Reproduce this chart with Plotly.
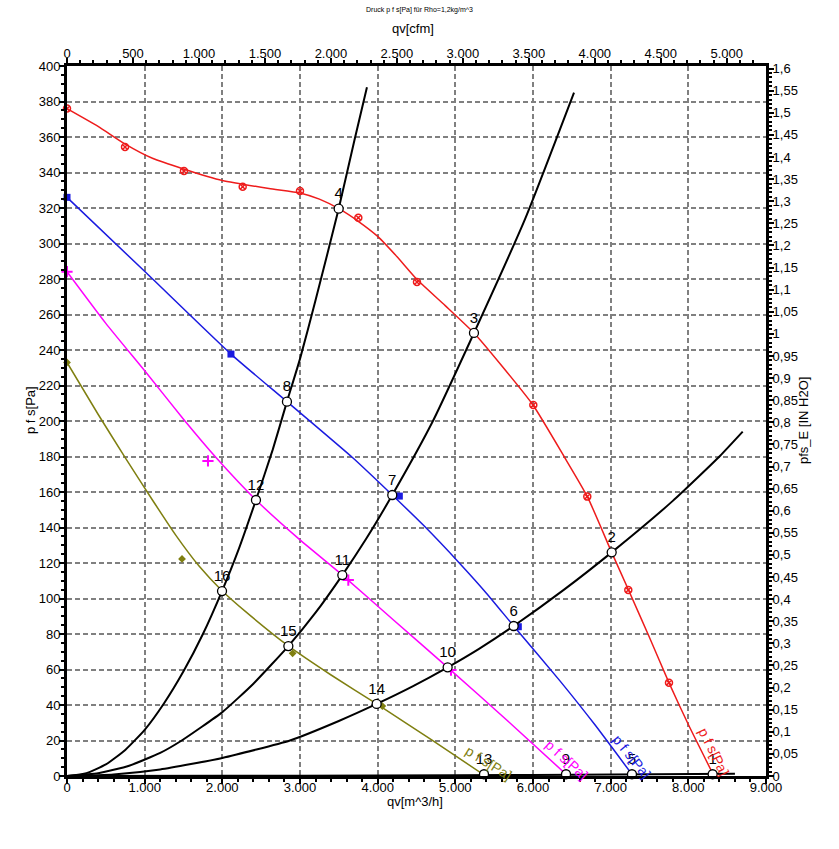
import plotly.graph_objects as go

# ---------------- data ----------------
# fan curves: smooth line points [m^3/h], [Pa]
red_x = [0, 400, 750, 1100, 1500, 2000, 2600, 3000, 3250, 3500, 3750, 4000, 4250, 4500, 4870, 5240, 5600, 6000, 6400, 6700, 7013, 7230, 7500, 7750, 8000, 8330]
red_y = [376, 366, 356, 348, 342, 335.5, 331, 328.5, 325, 319.6, 312.5, 304, 292.5, 280, 265, 249.6, 231, 209, 180, 157.4, 126, 104.8, 78, 52.6, 29, 0]
red_mx = [0, 747, 1506, 2262, 3000, 3751, 4506, 6004, 6699, 7227, 7751]
red_my = [376, 354.4, 340.8, 332, 329.6, 314.5, 278.3, 209, 157.4, 104.8, 52.6]

blue_x = [0, 1026, 2111, 2832, 3686, 4188, 4600, 5060, 5400, 5751, 6347, 6800, 7290]
blue_y = [326, 283.2, 237.7, 210.9, 179, 158.3, 140.8, 119.6, 103, 84.5, 53.6, 28.7, 0]
blue_mx = [0, 2111, 4279, 5811]
blue_my = [326, 237.7, 157.7, 84.1]

mag_x = [0, 500, 1026, 1500, 1927, 2433, 3000, 3545, 4200, 4901, 5700, 6450]
mag_y = [284.1, 255, 226.9, 201, 179, 155.5, 133, 113.2, 88, 61.2, 30, 0]
mag_mx = [0, 1815, 3622, 4944]
mag_my = [284.1, 177.5, 110.4, 59.7]

olv_x = [0, 400, 747, 1100, 1400, 1700, 1996, 2300, 2850, 3400, 3987, 4700, 5390]
olv_y = [233, 203.8, 179.5, 155.5, 135.7, 118.3, 104.4, 92.6, 73.3, 56.9, 40.6, 20.2, 0]
olv_mx = [0, 1481, 2905, 4060]
olv_my = [233, 122.3, 69.1, 39.4]

# system curves
sysA_x = [0, 250, 500, 750, 1000, 1250, 1500, 1750, 1996, 2200, 2433, 2650, 2832, 3000, 3200, 3498, 3700, 3862]
sysA_y = [0, 1.6, 6.5, 14.7, 26, 41, 59, 80, 104.2, 126.5, 155.5, 184, 210.9, 235, 268, 319.6, 358, 388]
sysB_x = [0, 400, 800, 1200, 1477, 2000, 2400, 2850, 3200, 3545, 3850, 4188, 4700, 5240, 5900, 6528]
sysB_y = [0, 1.5, 5.8, 13, 20, 36, 52, 73.2, 92, 113.2, 133.5, 158.3, 199, 249.6, 314, 385]
sysC_x = [0, 600, 1200, 2000, 2871, 3500, 3987, 4450, 4901, 5300, 5751, 6400, 7013, 7800, 8407, 8700]
sysC_y = [0, 0.9, 3.7, 10.2, 20, 31, 40.6, 50.5, 61.2, 71.5, 84.5, 105, 126, 155, 180.3, 194]
sysD_x = [0, 2000, 4000, 6000, 8600]
sysD_y = [0, 0.1, 0.3, 0.6, 1.3]

# operating points
pt_lbl = ["1", "2", "3", "4", "5", "6", "7", "8", "9", "10", "11", "12", "13", "14", "15", "16"]
pt_x = [8313, 7013, 5240, 3498, 7274, 5751, 4188, 2832, 6425, 4901, 3545, 2433, 5369, 3987, 2850, 1996]
pt_y = [1, 126, 249.6, 319.6, 1, 84.5, 158.3, 210.9, 1, 61.2, 113.2, 155.5, 1, 40.6, 73.2, 104.2]

# axes
x_ticks = [0, 1000, 2000, 3000, 4000, 5000, 6000, 7000, 8000, 9000]
x_ticktext = ["0", "1.000", "2.000", "3.000", "4.000", "5.000", "6.000", "7.000", "8.000", "9.000"]
cfm_ticks = [0, 500, 1000, 1500, 2000, 2500, 3000, 3500, 4000, 4500, 5000]
cfm_ticktext = ["0", "500", "1.000", "1.500", "2.000", "2.500", "3.000", "3.500", "4.000", "4.500", "5.000"]
inh2o_ticks = [round(i * 0.05, 2) for i in range(33)]
inh2o_ticktext = [("%g" % v).replace(".", ",") for v in inh2o_ticks]

M3H_PER_CFM = 1.69901
PA_PER_INH2O = 249.089

RED = "#ee1c1c"
BLUE = "#1a1ae0"
MAG = "#ff00ff"
OLV = "#7f7f10"
FONT = "Liberation Sans, Arial, sans-serif"

fig = go.Figure()

def line(x, y, color, w=1.5):
    fig.add_trace(go.Scatter(x=x, y=y, mode="lines", line=dict(color=color, width=w, shape="spline", smoothing=0.5),
                             hoverinfo="skip", showlegend=False, cliponaxis=False))

def marks(x, y, color, symbol, size, lw=1.2, fill=None):
    fig.add_trace(go.Scatter(x=x, y=y, mode="markers",
                             marker=dict(symbol=symbol, size=size, color=fill or color, line=dict(color=color, width=lw)),
                             hoverinfo="skip", showlegend=False, cliponaxis=False))

line(red_x, red_y, RED)
line(blue_x, blue_y, BLUE)
line(mag_x, mag_y, MAG)
line(olv_x, olv_y, OLV)

marks(red_mx, red_my, RED, "circle-x-open", 7, 1.5)
marks(blue_mx, blue_my, BLUE, "square", 7, 0)
marks(mag_mx, mag_my, MAG, "cross-thin", 8, 2)
marks(olv_mx, olv_my, OLV, "diamond", 6, 0)

for sx, sy in [(sysA_x, sysA_y), (sysB_x, sysB_y), (sysC_x, sysC_y), (sysD_x, sysD_y)]:
    line(sx, sy, "black", 2)

fig.add_trace(go.Scatter(x=pt_x, y=pt_y, mode="markers+text", text=pt_lbl, textposition="top center",
                         textfont=dict(family=FONT, size=15, color="black"),
                         marker=dict(symbol="circle", size=9, color="white", line=dict(color="black", width=1.3)),
                         hoverinfo="skip", showlegend=False, cliponaxis=False))

# invisible trace for the secondary axes
fig.add_trace(go.Scatter(x=[0], y=[0], xaxis="x2", yaxis="y2", mode="markers",
                         marker=dict(opacity=0), hoverinfo="skip", showlegend=False))

axis_common = dict(showline=True, linewidth=3, linecolor="black", ticks="outside", ticklen=5, tickwidth=1.5,
                   tickcolor="black", zeroline=False, tickfont=dict(family=FONT, size=13, color="black"))
grid = dict(showgrid=True, gridcolor="#808080", gridwidth=1.5, griddash="5px,3px")

fig.update_layout(
    width=839, height=849,
    margin=dict(l=67, r=73, t=66, b=73),
    plot_bgcolor="white", paper_bgcolor="white",
    showlegend=False,
    font=dict(family=FONT, color="black"),
    xaxis=dict(range=[0, 9000], tickmode="array", tickvals=x_ticks, ticktext=x_ticktext, ticklabelstandoff=-8,
               minor=dict(dtick=200, tick0=0, ticks="outside", ticklen=3, tickcolor="black", showgrid=False),
               **axis_common, **grid),
    yaxis=dict(range=[0, 400], tickmode="linear", tick0=0, dtick=20, ticklabelstandoff=-4,
               minor=dict(dtick=5, tick0=0, ticks="outside", ticklen=3, tickcolor="black", showgrid=False),
               **axis_common, **grid),
    xaxis2=dict(range=[0, 9000 / M3H_PER_CFM], overlaying="x", side="top", anchor="y2",
                tickmode="array", tickvals=cfm_ticks, ticktext=cfm_ticktext, showgrid=False, ticklabelstandoff=-5,
                minor=dict(dtick=100, tick0=0, ticks="outside", ticklen=3, tickcolor="black", showgrid=False),
                **axis_common),
    yaxis2=dict(range=[0, 400 / PA_PER_INH2O], overlaying="y", side="right", anchor="x2",
                tickmode="array", tickvals=inh2o_ticks, ticktext=inh2o_ticktext, showgrid=False, ticklabelstandoff=-4,
                minor=dict(dtick=0.01, tick0=0, ticks="outside", ticklen=3, tickcolor="black", showgrid=False),
                **axis_common),
)

def ann(text, x, y, size, angle=0, color="black", ref="paper"):
    fig.add_annotation(text=text, x=x, y=y, xref="paper" if ref == "paper" else "x",
                       yref="paper" if ref == "paper" else "y", showarrow=False, textangle=angle,
                       xanchor="center", yanchor="middle", font=dict(family=FONT, size=size, color=color))

ann("Druck p f s[Pa] für Rho=1,2kg/m^3", 0.505, 1.0789, 7)
ann("qv[cfm]", 0.495, 1.0535, 13)
ann("qv[m^3/h]", 0.498, -0.0366, 13)
ann("p f s[Pa]", -0.0515, 0.5155, 13, -90)
ann("pfs_E [IN H2O]", 1.054, 0.501, 13, -90)

# curve labels
ann("p f s[Pa]", 8330, 13.5, 14, 64, RED, "data")
ann("p f s[Pa]", 7274, 10.7, 14, 51, BLUE, "data")
ann("p f s[Pa]", 6437, 9.0, 14, 42, MAG, "data")
ann("p f s[Pa]", 5433, 7.3, 14, 32, OLV, "data")

fig.write_html("out.html")
